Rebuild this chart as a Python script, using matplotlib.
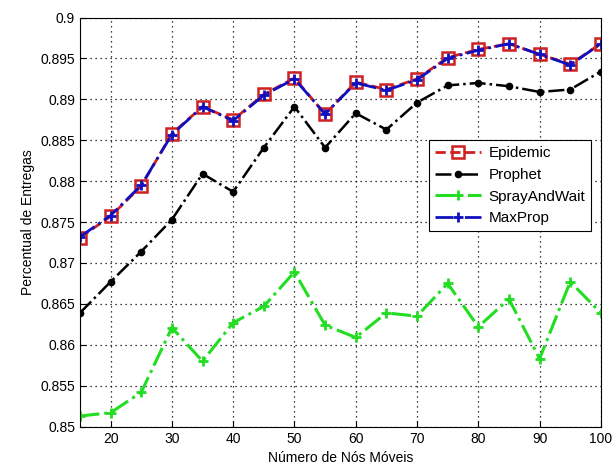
import matplotlib.pyplot as plt

# Número de nós móveis
nos = [15, 20, 25, 30, 35, 40, 45, 50, 55, 60, 65, 70, 75, 80, 85, 90, 95, 100]

epidemic = [0.8731, 0.8757, 0.8794, 0.8858, 0.8891, 0.8875, 0.8906, 0.8926, 0.8882,
            0.8921, 0.8912, 0.8925, 0.8951, 0.8961, 0.8968, 0.8955, 0.8943, 0.8968]
prophet = [0.8639, 0.8677, 0.8714, 0.8753, 0.8809, 0.8787, 0.8841, 0.8891, 0.8841,
           0.8883, 0.8863, 0.8896, 0.8917, 0.8920, 0.8916, 0.8909, 0.8912, 0.8934]
spray = [0.8513, 0.8517, 0.8542, 0.8621, 0.8580, 0.8627, 0.8647, 0.8689, 0.8624,
         0.8609, 0.8639, 0.8635, 0.8675, 0.8622, 0.8656, 0.8583, 0.8677, 0.8639]
maxprop = [0.8732, 0.8758, 0.8795, 0.8857, 0.8891, 0.8874, 0.8905, 0.8925, 0.8882,
           0.8920, 0.8911, 0.8924, 0.8950, 0.8960, 0.8968, 0.8955, 0.8942, 0.8968]

yticks = [0.85, 0.855, 0.86, 0.865, 0.87, 0.875, 0.88, 0.885, 0.89, 0.895, 0.9]
ylabels = ['0.85', '0.855', '0.86', '0.865', '0.87', '0.875', '0.88', '0.885', '0.89', '0.895', '0.9']
xticks = [20, 30, 40, 50, 60, 70, 80, 90, 100]

plt.rcParams['font.family'] = ['Liberation Sans', 'DejaVu Sans']

fig = plt.figure(figsize=(6.15, 4.73), dpi=100)
ax = fig.add_axes([0.130, 0.098, 0.847, 0.865])

ax.plot(nos, epidemic, color='#d02020', linestyle='--', linewidth=2, marker='s',
        markersize=8, markerfacecolor='none', markeredgewidth=1.8, label='Epidemic')
ax.plot(nos, prophet, color='black', linestyle='-.', linewidth=1.8, marker='o',
        markersize=4.5, label='Prophet')
ax.plot(nos, spray, color='#22dd22', linestyle='-.', linewidth=2.2, marker='+',
        markersize=7, markeredgewidth=2, label='SprayAndWait')
ax.plot(nos, maxprop, color='#1010c0', linestyle='-.', linewidth=2, marker='+',
        markersize=7, markeredgewidth=2, label='MaxProp')

ax.set_xlim(15, 100)
ax.set_ylim(0.85, 0.9)
ax.set_xticks(xticks)
ax.set_yticks(yticks)
ax.set_yticklabels(ylabels)
ax.tick_params(direction='in', labelsize=10, length=4)
ax.grid(True, linestyle=(0, (1, 3)), color='black', linewidth=0.9)
ax.set_xlabel('Número de Nós Móveis', fontsize=10)
ax.set_ylabel('Percentual de Entregas', fontsize=10)

leg = ax.legend(loc='upper left', bbox_to_anchor=(0.67, 0.70), fontsize=11,
                fancybox=False, framealpha=1, edgecolor='black', borderaxespad=0,
                borderpad=0.4, labelspacing=0.5, handlelength=3, handletextpad=0.5)
leg.get_frame().set_linewidth(0.8)

fig.savefig('out.png', dpi=100)
